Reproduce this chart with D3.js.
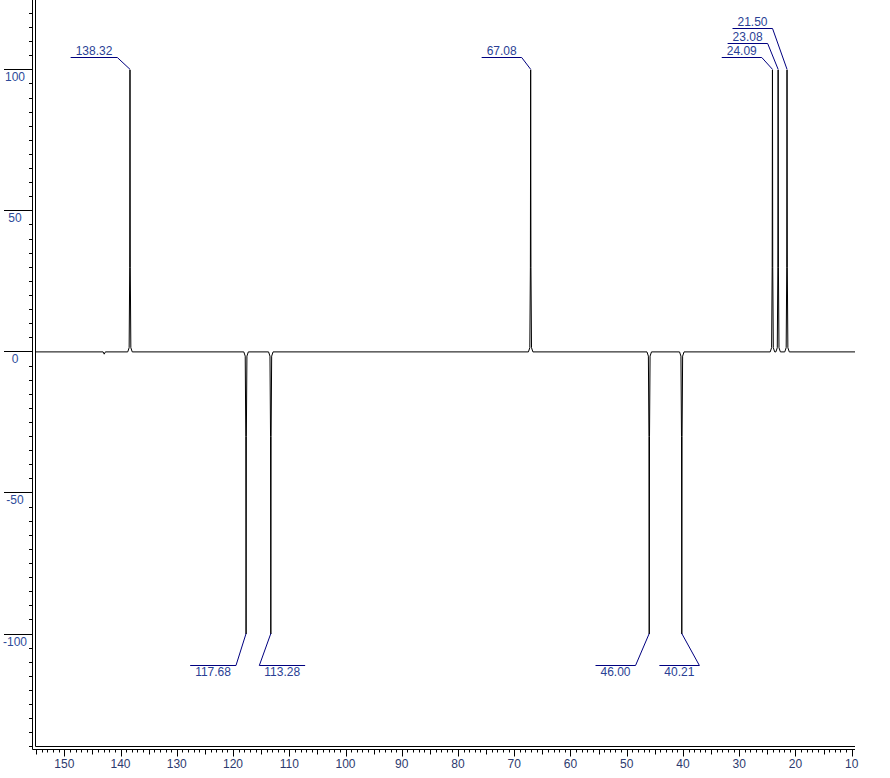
<!DOCTYPE html>
<html>
<head>
<meta charset="utf-8">
<script src="https://cdn.jsdelivr.net/npm/d3@7/dist/d3.min.js"></script>
<style>
  html, body { margin: 0; padding: 0; background: #fff; }
  svg { display: block; }
  text { font-family: "Liberation Sans", Arial, sans-serif; font-size: 12px; }
</style>
</head>
<body>
<svg id="chart" width="890" height="778"></svg>
<script>
// ---- data ----
const peakShifts      = [138.32, 117.68, 113.28, 67.08, 46.00, 40.21, 24.09, 23.08, 21.50];
const peakIntensities = [100, -100, -100, 100, -100, -100, 100, 100, 100];
const peakLabels      = ["138.32", "117.68", "113.28", "67.08", "46.00", "40.21", "24.09", "23.08", "21.50"];
const smallShifts      = [142.9];
const smallIntensities = [-0.8];
const xTickLabels = [150, 140, 130, 120, 110, 100, 90, 80, 70, 60, 50, 40, 30, 20, 10];
const yTickLabels = [100, 50, 0, -50, -100];

// ---- label layout (pixels, relative to peak tip) ----
const labelCenterDx = [-36, -33, 11.4, -29, -33.7, -2.4, -30.7, -30.5, -34.5];
const labelLineY    = [57.3, 665, 665, 57.3, 665, 665, 57.3, 43.3, 28.3];
const labelJoin     = ["end", "end", "start", "end", "end", "end", "end", "end", "end"];

const svg = d3.select("#chart");
const x = d3.scaleLinear().domain([150, 10]).range([64.3, 851.7]);
const y = d3.scaleLinear().domain([-100, 100]).range([633.5, 69.3]);

const innerX = 35, outerX = 32, innerY = 746.5, outerY = 749.5, rightX = 855;
const axisColor = "#000";
const labelColor = "#2a3f95";
const leaderColor = "#000080";

// ---- frame (double lines) ----
svg.append("path").attr("fill", "none").attr("stroke", axisColor).attr("stroke-width", 1)
  .attr("d", `M${outerX + 0.5},0 V${outerY} H${rightX}`);
svg.append("path").attr("fill", "none").attr("stroke", axisColor).attr("stroke-width", 1)
  .attr("d", `M${innerX + 0.5},0 V${innerY} H${rightX}`);

// ---- x axis ticks ----
const xMin = Math.ceil(x.invert(innerX + 2)), xMax = 10;
const xTicksAll = d3.range(xMax, xMin + 1, 1);
const gx = svg.append("g");
gx.selectAll("line").data(xTicksAll).join("line")
  .attr("x1", d => Math.round(x(d)) + 0.5).attr("x2", d => Math.round(x(d)) + 0.5)
  .attr("y1", outerY).attr("y2", d => outerY + (d % 10 === 0 ? 7 : d % 5 === 0 ? 5 : 3))
  .attr("stroke", axisColor);
gx.selectAll("text").data(xTickLabels).join("text")
  .attr("x", d => x(d)).attr("y", 767.5).attr("text-anchor", "middle")
  .attr("fill", "#2d3a6e").text(d => d);

// ---- y axis ticks ----
const yLow = Math.ceil(y.invert(innerY) / 5) * 5, yHigh = Math.floor(y.invert(0) / 5) * 5;
const yTicksAll = d3.range(yLow, yHigh + 1, 5);
const gy = svg.append("g");
gy.selectAll("line.minor").data(yTicksAll).join("line").attr("class", "minor")
  .attr("x1", 29).attr("x2", outerX)
  .attr("y1", d => Math.round(y(d)) + 0.5).attr("y2", d => Math.round(y(d)) + 0.5)
  .attr("stroke", axisColor);
gy.selectAll("line.major").data(yTickLabels).join("line").attr("class", "major")
  .attr("x1", 4).attr("x2", outerX)
  .attr("y1", d => Math.round(y(d)) + 0.5).attr("y2", d => Math.round(y(d)) + 0.5)
  .attr("stroke", axisColor);
gy.selectAll("text").data(yTickLabels).join("text")
  .attr("x", 15).attr("y", d => y(d) + 12).attr("text-anchor", "middle")
  .attr("fill", "#2d4a9a").text(d => d);

// ---- spectrum line ----
const allPeaks = peakShifts.map((s, i) => ({ s, h: peakIntensities[i] }))
  .concat(smallShifts.map((s, i) => ({ s, h: smallIntensities[i] })))
  .sort((a, b) => b.s - a.s);
const pts = [[x.invert(innerX + 1), 0]];
allPeaks.forEach(p => {
  const big = Math.abs(p.h) > 5;
  if (big) {
    pts.push([p.s + 0.4, 0], [p.s + 0.15, p.h * 0.015], [p.s + 0.05, p.h * 0.3],
             [p.s, p.h], [p.s - 0.05, p.h * 0.3], [p.s - 0.15, p.h * 0.015], [p.s - 0.4, 0]);
  } else {
    pts.push([p.s + 0.2, 0], [p.s, p.h], [p.s - 0.2, 0]);
  }
});
pts.push([x.invert(rightX), 0]);
svg.append("path").datum(pts)
  .attr("fill", "none").attr("stroke", "#000").attr("stroke-width", 1)
  .attr("d", d3.line().x(d => x(d[0])).y(d => y(d[1]) + 0.5));

// ---- peak labels with leaders ----
const gl = svg.append("g");
peakShifts.forEach((s, i) => {
  const px = x(s), py = y(peakIntensities[i]);
  const pos = peakIntensities[i] > 0;
  const ly = labelLineY[i];
  const cx = px + labelCenterDx[i];
  const t = gl.append("text").attr("x", cx).attr("y", pos ? ly - 2.5 : ly + 10.5)
    .attr("text-anchor", "middle").attr("fill", labelColor).text(peakLabels[i]);
  const w = t.node().getComputedTextLength();
  const x0 = cx - w / 2 - 5, x1 = cx + w / 2 + 5;
  const jx = labelJoin[i] === "end" ? x1 : x0;
  gl.append("line").attr("x1", x0).attr("x2", x1).attr("y1", Math.round(ly) + 0.5).attr("y2", Math.round(ly) + 0.5)
    .attr("stroke", leaderColor);
  gl.append("line").attr("x1", jx).attr("y1", Math.round(ly) + 0.5).attr("x2", px).attr("y2", py)
    .attr("stroke", leaderColor);
});
</script>
</body>
</html>
